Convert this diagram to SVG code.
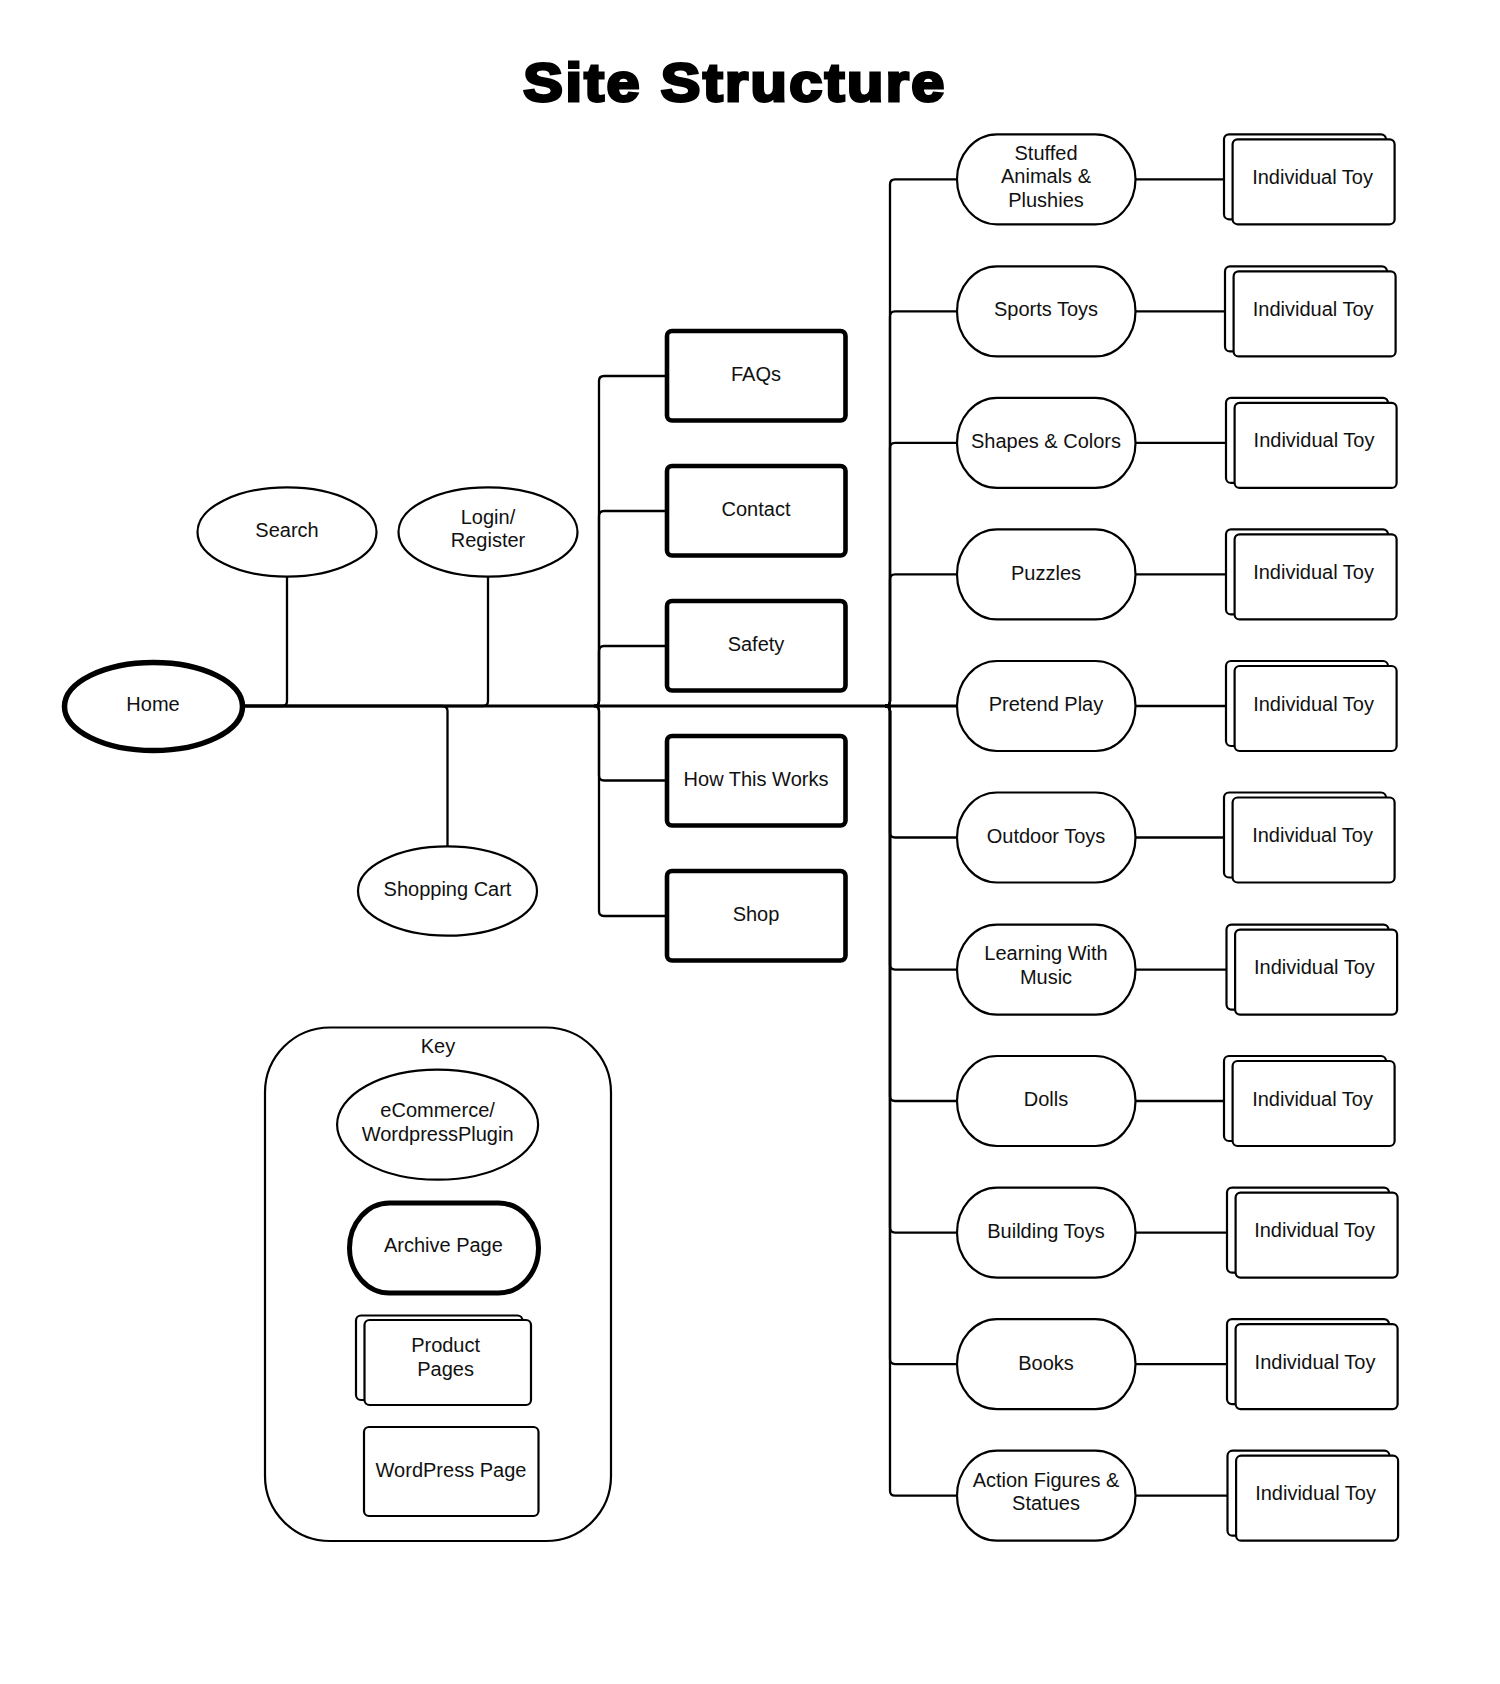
<svg xmlns="http://www.w3.org/2000/svg" width="1500" height="1684" viewBox="0 0 1500 1684">
<style>
text{font-family:"Liberation Sans",Arial,sans-serif;font-size:20px;fill:#111;text-anchor:middle}
.title{font-size:54px;font-weight:bold;fill:#000;stroke:#000;stroke-width:3px;letter-spacing:2.2px}
.s{fill:#fff;stroke:#000;stroke-width:2.2}
.t{fill:#fff;stroke:#000;stroke-width:4.6}
.h{fill:#fff;stroke:#000;stroke-width:5.5}
.c{fill:none;stroke:#000;stroke-width:2.3}
.m{fill:none;stroke:#000;stroke-width:3}
</style>
<rect width="1500" height="1684" fill="#fff"/>
<text class="title" transform="translate(735 101) scale(1.1 1)">Site Structure</text>
<g id="connectors">
<path class="c" d="M244 706H282Q287 706 287 701V577"/>
<path class="c" d="M244 706H483Q488 706 488 701V577"/>
<path class="c" d="M244 706H442Q447.5 706 447.5 711V847"/>
<path class="c" d="M594 706Q599 706 599 701V381Q599 376 604 376H667"/>
<path class="c" d="M594 706Q599 706 599 701V516Q599 511 604 511H667"/>
<path class="c" d="M594 706Q599 706 599 701V651Q599 646 604 646H667"/>
<path class="c" d="M594 706Q599 706 599 711V775.5Q599 780.5 604 780.5H667"/>
<path class="c" d="M594 706Q599 706 599 711V911Q599 916 604 916H667"/>
<path class="c" d="M885 706Q890 706 890 701V184.3Q890 179.3 895 179.3H957"/>
<path class="c" d="M885 706Q890 706 890 701V316.4Q890 311.4 895 311.4H957"/>
<path class="c" d="M885 706Q890 706 890 701V447.9Q890 442.9 895 442.9H957"/>
<path class="c" d="M885 706Q890 706 890 701V579.4Q890 574.4 895 574.4H957"/>
<path class="m" d="M244 706H957"/>
<path class="c" d="M885 706Q890 706 890 711V832.5Q890 837.5 895 837.5H957"/>
<path class="c" d="M885 706Q890 706 890 711V964.6Q890 969.6 895 969.6H957"/>
<path class="c" d="M885 706Q890 706 890 711V1096Q890 1101 895 1101H957"/>
<path class="c" d="M885 706Q890 706 890 711V1227.6Q890 1232.6 895 1232.6H957"/>
<path class="c" d="M885 706Q890 706 890 711V1359.1Q890 1364.1 895 1364.1H957"/>
<path class="c" d="M885 706Q890 706 890 711V1490.7Q890 1495.7 895 1495.7H957"/>
<path class="c" d="M1135.5 179.3H1224"/>
<path class="c" d="M1135.5 311.4H1225"/>
<path class="c" d="M1135.5 442.9H1226"/>
<path class="c" d="M1135.5 574.4H1226"/>
<path class="c" d="M1135.5 706H1226"/>
<path class="c" d="M1135.5 837.5H1224"/>
<path class="c" d="M1135.5 969.6H1226.5"/>
<path class="c" d="M1135.5 1101H1224"/>
<path class="c" d="M1135.5 1232.6H1227"/>
<path class="c" d="M1135.5 1364.1H1227"/>
<path class="c" d="M1135.5 1495.7H1227.5"/>
</g>
<g id="home"><ellipse class="h" cx="153.5" cy="706.5" rx="89" ry="44"/><text x="153" y="711">Home</text></g>
<g id="search"><ellipse class="s" cx="287" cy="532" rx="89.5" ry="44.7"/><text x="287" y="537">Search</text></g>
<g id="login"><ellipse class="s" cx="488" cy="532" rx="89.5" ry="44.7"/><text x="488" y="523.5">Login/</text><text x="488" y="547">Register</text></g>
<g id="cart"><ellipse class="s" cx="447.5" cy="891" rx="89.5" ry="44.7"/><text x="447.5" y="896">Shopping Cart</text></g>
<g id="faqs"><rect class="t" x="667" y="331" width="178.5" height="89.5" rx="5"/><text x="756" y="380.5">FAQs</text></g>
<g id="contact"><rect class="t" x="667" y="466" width="178.5" height="89.5" rx="5"/><text x="756" y="515.5">Contact</text></g>
<g id="safety"><rect class="t" x="667" y="601" width="178.5" height="89.5" rx="5"/><text x="756" y="651">Safety</text></g>
<g id="how"><rect class="t" x="667" y="736" width="178.5" height="89.5" rx="5"/><text x="756" y="786">How This Works</text></g>
<g id="shop"><rect class="t" x="667" y="871" width="178.5" height="89.5" rx="5"/><text x="756" y="921">Shop</text></g>
<g id="p1"><rect class="s" x="957" y="134.3" width="178.5" height="90" rx="40" ry="45"/><text x="1046" y="159.5">Stuffed</text><text x="1046" y="183">Animals &amp;</text><text x="1046" y="206.5">Plushies</text></g>
<g id="p2"><rect class="s" x="957" y="266.4" width="178.5" height="90" rx="40" ry="45"/><text x="1046" y="315.5">Sports Toys</text></g>
<g id="p3"><rect class="s" x="957" y="397.9" width="178.5" height="90" rx="40" ry="45"/><text x="1046" y="448">Shapes &amp; Colors</text></g>
<g id="p4"><rect class="s" x="957" y="529.4" width="178.5" height="90" rx="40" ry="45"/><text x="1046" y="579.5">Puzzles</text></g>
<g id="p5"><rect class="s" x="957" y="661" width="178.5" height="90" rx="40" ry="45"/><text x="1046" y="711">Pretend Play</text></g>
<g id="p6"><rect class="s" x="957" y="792.5" width="178.5" height="90" rx="40" ry="45"/><text x="1046" y="842.5">Outdoor Toys</text></g>
<g id="p7"><rect class="s" x="957" y="924.6" width="178.5" height="90" rx="40" ry="45"/><text x="1046" y="960">Learning With</text><text x="1046" y="984">Music</text></g>
<g id="p8"><rect class="s" x="957" y="1056" width="178.5" height="90" rx="40" ry="45"/><text x="1046" y="1106">Dolls</text></g>
<g id="p9"><rect class="s" x="957" y="1187.6" width="178.5" height="90" rx="40" ry="45"/><text x="1046" y="1237.5">Building Toys</text></g>
<g id="p10"><rect class="s" x="957" y="1319.1" width="178.5" height="90" rx="40" ry="45"/><text x="1046" y="1369.5">Books</text></g>
<g id="p11"><rect class="s" x="957" y="1450.7" width="178.5" height="90" rx="40" ry="45"/><text x="1046" y="1486.5">Action Figures &amp;</text><text x="1046" y="1510">Statues</text></g>
<g id="t1"><rect class="s" x="1224" y="134.3" width="162" height="85" rx="5"/><rect class="s" x="1232.6" y="139.3" width="162" height="85" rx="5"/><text x="1312.6" y="183.5">Individual Toy</text></g>
<g id="t2"><rect class="s" x="1225" y="266.4" width="162" height="85" rx="5"/><rect class="s" x="1233.6" y="271.4" width="162" height="85" rx="5"/><text x="1313.2" y="315.5">Individual Toy</text></g>
<g id="t3"><rect class="s" x="1226" y="397.9" width="162" height="85" rx="5"/><rect class="s" x="1234.6" y="402.9" width="162" height="85" rx="5"/><text x="1314" y="447">Individual Toy</text></g>
<g id="t4"><rect class="s" x="1226" y="529.4" width="162" height="85" rx="5"/><rect class="s" x="1234.6" y="534.4" width="162" height="85" rx="5"/><text x="1313.6" y="579">Individual Toy</text></g>
<g id="t5"><rect class="s" x="1226" y="661" width="162" height="85" rx="5"/><rect class="s" x="1234.6" y="666" width="162" height="85" rx="5"/><text x="1313.6" y="710.5">Individual Toy</text></g>
<g id="t6"><rect class="s" x="1224" y="792.5" width="162" height="85" rx="5"/><rect class="s" x="1232.6" y="797.5" width="162" height="85" rx="5"/><text x="1312.6" y="842">Individual Toy</text></g>
<g id="t7"><rect class="s" x="1226.5" y="924.6" width="162" height="85" rx="5"/><rect class="s" x="1235.1" y="929.6" width="162" height="85" rx="5"/><text x="1314.4" y="974">Individual Toy</text></g>
<g id="t8"><rect class="s" x="1224" y="1056" width="162" height="85" rx="5"/><rect class="s" x="1232.6" y="1061" width="162" height="85" rx="5"/><text x="1312.6" y="1105.5">Individual Toy</text></g>
<g id="t9"><rect class="s" x="1227" y="1187.6" width="162" height="85" rx="5"/><rect class="s" x="1235.6" y="1192.6" width="162" height="85" rx="5"/><text x="1314.6" y="1237">Individual Toy</text></g>
<g id="t10"><rect class="s" x="1227" y="1319.1" width="162" height="85" rx="5"/><rect class="s" x="1235.6" y="1324.1" width="162" height="85" rx="5"/><text x="1315" y="1368.5">Individual Toy</text></g>
<g id="t11"><rect class="s" x="1227.5" y="1450.7" width="162" height="85" rx="5"/><rect class="s" x="1236.1" y="1455.7" width="162" height="85" rx="5"/><text x="1315.6" y="1500">Individual Toy</text></g>
<g id="key"><rect class="s" x="265" y="1027.5" width="346" height="513.5" rx="65"/><text x="438" y="1052.5">Key</text></g>
<g id="key-plugin"><ellipse class="s" cx="437.6" cy="1124.7" rx="100.5" ry="55"/><text x="437.6" y="1117">eCommerce/</text><text x="437.6" y="1141">WordpressPlugin</text></g>
<g id="key-archive"><rect class="t" x="349.5" y="1203" width="189" height="90" rx="40" ry="45" style="stroke-width:5"/><text x="443.4" y="1252">Archive Page</text></g>
<g id="key-product"><rect class="s" x="356" y="1315.5" width="166.5" height="84.5" rx="5"/><rect class="s" x="364.5" y="1320" width="166.5" height="85" rx="5"/><text x="445.6" y="1352">Product</text><text x="445.6" y="1376">Pages</text></g>
<g id="key-wp"><rect class="s" x="364" y="1427" width="174.5" height="89" rx="5"/><text x="451" y="1477">WordPress Page</text></g>
</svg>
